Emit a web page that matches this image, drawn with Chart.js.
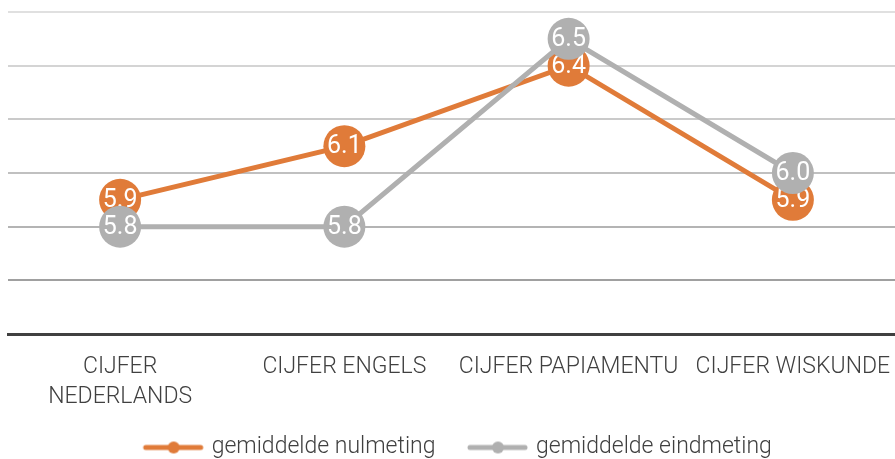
<!DOCTYPE html>
<html lang="nl">
<head>
    <meta charset="UTF-8">
    <title>Cijfers</title>
    <script src="https://cdn.jsdelivr.net/npm/chart.js@4"></script>
    <style>
        html, body { margin: 0; padding: 0; background: #fff; overflow: hidden; }
        #wrap { width: 920px; height: 459px; }
    </style>
</head>
<body>
    <div id="wrap"><canvas id="myChart" width="920" height="459"></canvas></div>
    <script>
        // data
        const categories = [["CIJFER", "NEDERLANDS"], "CIJFER ENGELS", "CIJFER PAPIAMENTU", "CIJFER WISKUNDE"];
        const seriesNames = ["gemiddelde nulmeting", "gemiddelde eindmeting"];
        const nulmeting = [5.9, 6.1, 6.4, 5.9];
        const eindmeting = [5.8, 5.8, 6.5, 6.0];
        const yTicks = [5.4, 5.6, 5.8, 6.0, 6.2, 6.4, 6.6];

        const ORANGE = '#e07b39';
        const GREY = '#b0b0b0';
        const gridColors = ['#404040', '#a0a0a0', '#b4b4b4', '#c0c0c0', '#cacaca', '#d4d4d4', '#e0e0e0'];

        // legend marker: line with a dot, empty space on the left acts as item gap
        function legendMarker(color) {
            const c = document.createElement('canvas');
            c.width = 70; c.height = 14;
            const g = c.getContext('2d');
            g.strokeStyle = color;
            g.lineWidth = 5;
            g.lineCap = 'round';
            g.beginPath();
            g.moveTo(10, 7); g.lineTo(65, 7);
            g.stroke();
            g.fillStyle = color;
            g.beginPath();
            g.arc(38, 7, 6, 0, Math.PI * 2);
            g.fill();
            return c;
        }

        // white value text inside each marker, drawn with its own series
        const valueLabels = {
            id: 'valueLabels',
            afterDatasetDraw(chart, args) {
                const ctx = chart.ctx;
                const ds = chart.data.datasets[args.index];
                ctx.save();
                ctx.font = '400 25px Roboto';
                ctx.fillStyle = '#ffffff';
                ctx.textAlign = 'center';
                ctx.textBaseline = 'middle';
                args.meta.data.forEach((pt, j) => {
                    ctx.fillText(ds.data[j].toFixed(1), pt.x, pt.y + 1);
                });
                ctx.restore();
            }
        };

        const ctx = document.getElementById('myChart').getContext('2d');
        new Chart(ctx, {
            type: 'line',
            data: {
                labels: categories,
                datasets: [{
                    label: seriesNames[0],
                    data: nulmeting,
                    borderColor: ORANGE,
                    backgroundColor: ORANGE,
                    borderWidth: 5,
                    pointRadius: 21,
                    pointHoverRadius: 21,
                    pointBorderWidth: 0,
                    pointStyle: 'circle',
                    order: 1
                }, {
                    label: seriesNames[1],
                    data: eindmeting,
                    borderColor: GREY,
                    backgroundColor: GREY,
                    borderWidth: 5,
                    pointRadius: 21,
                    pointHoverRadius: 21,
                    pointBorderWidth: 0,
                    pointStyle: 'circle',
                    order: 0
                }]
            },
            options: {
                responsive: false,
                animation: false,
                events: [],
                layout: { autoPadding: false, padding: { left: 8, right: 15, top: 12, bottom: -10 } },
                scales: {
                    x: {
                        offset: true,
                        afterFit: (s) => { s.height = 72; },
                        grid: { display: false },
                        border: { display: true, color: '#404040', width: 3 },
                        ticks: {
                            color: '#404040',
                            padding: 10,
                            maxRotation: 0,
                            autoSkip: false,
                            font: { family: 'Roboto', size: 23, weight: '300', lineHeight: 1.3 }
                        }
                    },
                    y: {
                        min: 5.4,
                        max: 6.6,
                        afterBuildTicks: (s) => { s.ticks = yTicks.map(v => ({ value: v })); },
                        afterFit: (s) => { s.width = 0; },
                        border: { display: false },
                        ticks: { display: false },
                        grid: {
                            drawTicks: false,
                            lineWidth: 2,
                            color: (c) => gridColors[c.index] || '#d0d0d0'
                        }
                    }
                },
                plugins: {
                    tooltip: { enabled: false },
                    legend: {
                        position: 'bottom',
                        labels: {
                            usePointStyle: true,
                            pointStyleWidth: 59,
                            padding: 30,
                            color: '#404040',
                            font: { family: 'Roboto', size: 23, weight: '300' },
                            sort: (a, b) => a.datasetIndex - b.datasetIndex,
                            generateLabels: (chart) => chart.data.datasets.map((ds, i) => ({
                                text: ds.label,
                                datasetIndex: i,
                                pointStyle: legendMarker(ds.borderColor),
                                fillStyle: ds.borderColor,
                                strokeStyle: ds.borderColor,
                                lineWidth: 0,
                                fontColor: '#404040',
                                hidden: false
                            }))
                        }
                    }
                }
            },
            plugins: [valueLabels]
        });
    </script>
</body>
</html>
